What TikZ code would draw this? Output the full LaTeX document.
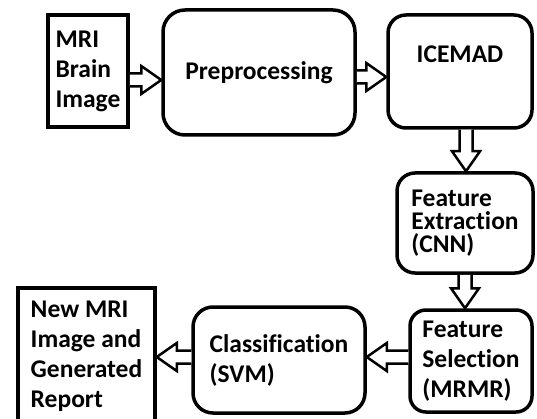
\documentclass[tikz,border=0pt]{standalone}
\usepackage{fontspec}
\setmainfont{Carlito}[Ligatures=NoCommon]
\usetikzlibrary{calc}

\begin{document}
\begin{tikzpicture}[x=1pt, y=-1pt,
    box/.style={draw, line width=3.5pt, align=left, inner sep=2pt, font=\fontsize{25.5pt}{30pt}\selectfont\bfseries},
    rbox/.style={box, rounded corners=#1},
    rbox/.default=18pt,
    blk/.style={draw, line width=2.5pt, fill=white, line join=miter,
        to path={let \p1=(\tikztostart), \p2=(\tikztotarget),
            \n1={atan2(\y2-\y1,\x2-\x1)}, \n2={veclen(\x2-\x1,\y2-\y1)} in
            {[shift={(\p1)}, rotate=\n1] (0,-6.5) -- (\n2-20,-6.5) -- (\n2-20,-14)
            -- (\n2,0) -- (\n2-20,14) -- (\n2-20,6.5) -- (0,6.5)}}}
]
\fill[white] (0,0) rectangle (537,419);
\useasboundingbox (0,0) rectangle (537,419);

\node[box, minimum width=80pt, minimum height=112pt] (img) at (88,71) {MRI\\Brain\\Image};
\node[rbox=22pt, minimum width=192pt, minimum height=125pt] (pre) at (259,72.5) {Preprocessing};
\node[rbox, minimum width=144pt, minimum height=113pt, text height=18pt, text depth=35pt] (ice) at (460,71.5) {ICEMAD};
\node[rbox, minimum width=136pt, minimum height=100pt, font=\fontsize{25.5pt}{23pt}\selectfont\bfseries] (fext) at (465,223) {Feature\\Extraction\\(CNN)};
\node[rbox=16pt, minimum width=122pt, minimum height=102pt] (fsel) at (471,361) {Feature\\Selection\\(MRMR)};
\node[rbox=20pt, minimum width=172pt, minimum height=106pt] (cls) at (279,360) {Classification\\(SVM)};
\node[box, minimum width=137pt, minimum height=137pt] (out) at (86.5,356.5) {New MRI\\Image and\\Generated\\Report};

% hollow block arrows
\draw[blk] ([yshift=-9pt]img.east) to ([yshift=-9pt]img.east -| pre.west);
\draw[blk] ([yshift=-4.5pt]pre.east) to ([yshift=-4.5pt]pre.east -| ice.west);
\draw[blk] ([xshift=6pt]ice.south) to ([xshift=6pt]ice.south |- fext.north);
\draw[blk] (fext.south) to (fext.south |- fsel.north);
\draw[blk] ([yshift=4pt]fsel.west) to ([yshift=4pt]fsel.west -| cls.east);
\draw[blk] ([yshift=3pt]cls.west) to ([yshift=3pt]cls.west -| out.east);
\end{tikzpicture}
\end{document}
